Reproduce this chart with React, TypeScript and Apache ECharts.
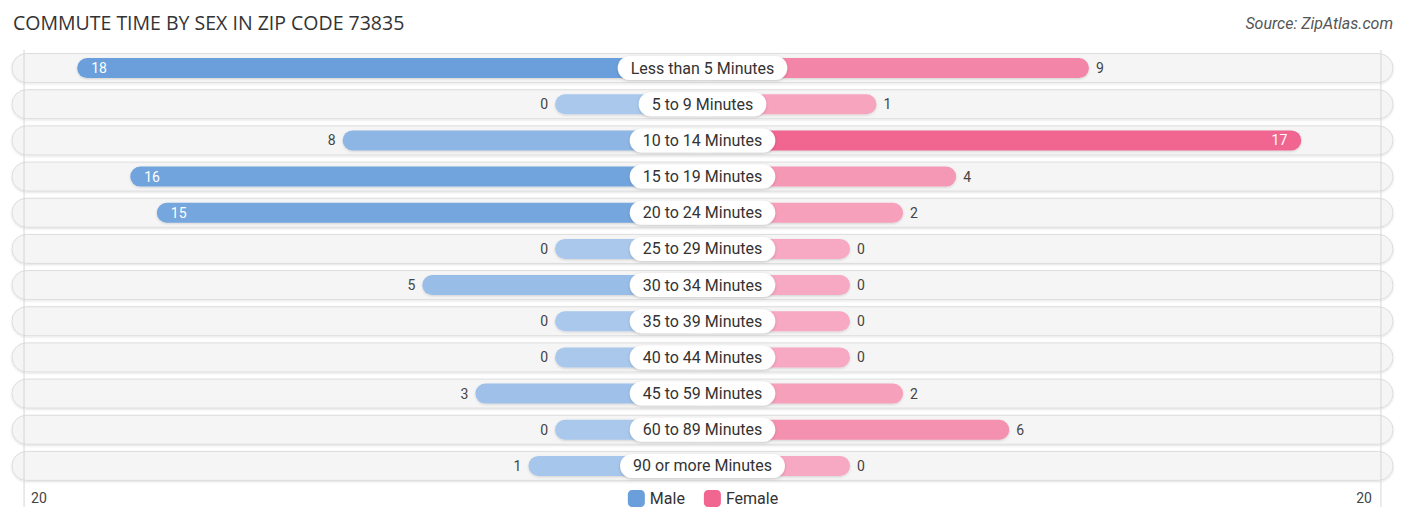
import React, { useEffect, useRef } from "react";
import * as echarts from "echarts";

const categories = [
  "Less than 5 Minutes",
  "5 to 9 Minutes",
  "10 to 14 Minutes",
  "15 to 19 Minutes",
  "20 to 24 Minutes",
  "25 to 29 Minutes",
  "30 to 34 Minutes",
  "35 to 39 Minutes",
  "40 to 44 Minutes",
  "45 to 59 Minutes",
  "60 to 89 Minutes",
  "90 or more Minutes",
];
const male = [18, 0, 8, 16, 15, 0, 5, 0, 0, 3, 0, 1];
const female = [9, 1, 17, 4, 2, 0, 0, 0, 0, 2, 6, 0];
const axisTicks = [-20, 20];
const axisTickLabels = ["20", "20"];

// space reserved for the category pill, in axis units
const OFFSET = 5.556;
const HALF = 26.01;

const FONT = "Roboto, 'Noto Sans', sans-serif";
const MALE_LIGHT = [169, 200, 236];
const MALE_STRONG = [106, 159, 219];
const FEMALE_LIGHT = [247, 168, 194];
const FEMALE_STRONG = [240, 102, 144];

const mix = (a: number[], b: number[], t: number) =>
  `rgb(${a.map((c, i) => Math.round(c + (b[i] - c) * t)).join(",")})`;

const barItems = (values: number[], light: number[], strong: number[], side: number) => {
  const max = Math.max(...values);
  return values.map((v) => {
    const inside = v > 12;
    return {
      value: side * (OFFSET + v),
      itemStyle: { color: mix(light, strong, v / max) },
      label: {
        show: true,
        position: inside
          ? side < 0
            ? "insideLeft"
            : "insideRight"
          : side < 0
          ? "left"
          : "right",
        distance: inside ? 14 : 7,
        color: inside ? "#ffffff" : "#444444",
        formatter: () => String(v),
      },
    };
  });
};

const App: React.FC = () => {
  const chartRef = useRef<HTMLDivElement>(null);

  useEffect(() => {
    if (!chartRef.current) return;
    const chart = echarts.init(chartRef.current, undefined, { renderer: "svg" });

    const rowData = categories.map((_, i) => [0, i]);

    const option = {
      animation: false,
      title: {
        text: "COMMUTE TIME BY SEX IN ZIP CODE 73835",
        left: 13,
        top: 12,
        padding: 0,
        textStyle: {
          fontFamily: "'Open Sans', sans-serif",
          fontSize: 19.5,
          fontWeight: "normal",
          color: "#333333",
        },
      },
      graphic: [
        {
          type: "text",
          right: 13,
          top: 15,
          style: {
            text: "Source: ZipAtlas.com",
            font: `italic 16px ${FONT}`,
            fill: "#555555",
          },
        },
      ],
      legend: {
        data: ["Male", "Female"],
        bottom: 16,
        left: "center",
        padding: 0,
        itemWidth: 17,
        itemHeight: 17,
        itemGap: 19,
        icon: "roundRect",
        textStyle: { fontFamily: FONT, fontSize: 16, color: "#333333" },
      },
      grid: { left: 12, right: 13, top: 50, bottom: 39 },
      xAxis: { type: "value", min: -HALF, max: HALF, show: false },
      yAxis: { type: "category", data: categories, inverse: true, show: false },
      series: [
        {
          type: "custom",
          name: "rows",
          z: 1,
          silent: true,
          data: rowData,
          encode: { x: 0, y: 1 },
          renderItem: (params: any, api: any) => {
            const cs = params.coordSys;
            const y = api.coord([0, api.value(1)])[1];
            const h = 29;
            return {
              type: "rect",
              shape: { x: cs.x, y: y - h / 2, width: cs.width, height: h, r: h / 2 },
              style: {
                fill: "#f5f5f5",
                stroke: "#dddddd",
                lineWidth: 1,
                shadowBlur: 2,
                shadowOffsetY: 1,
                shadowColor: "rgba(0,0,0,0.12)",
              },
            };
          },
        },
        {
          type: "custom",
          name: "axis",
          z: 2,
          silent: true,
          data: axisTicks.map((t, i) => [Math.sign(t) * (OFFSET + Math.abs(t)), i]),
          encode: { x: 0 },
          renderItem: (params: any, api: any) => {
            const cs = params.coordSys;
            const v = api.value(0);
            const x = api.coord([v, 0])[0];
            const label = axisTickLabels[params.dataIndex];
            return {
              type: "group",
              children: [
                {
                  type: "line",
                  shape: { x1: x, y1: cs.y, x2: x, y2: cs.y + cs.height + 23 },
                  style: { stroke: "#d6d6d6", lineWidth: 1 },
                },
                {
                  type: "text",
                  x: v < 0 ? x + 7 : x - 9,
                  y: cs.y + cs.height + 14,
                  style: {
                    text: label,
                    font: `14px ${FONT}`,
                    fill: "#444444",
                    align: v < 0 ? "left" : "right",
                    verticalAlign: "middle",
                  },
                },
              ],
            };
          },
        },
        {
          type: "bar",
          name: "Male",
          z: 3,
          barWidth: 20,
          barGap: "-100%",
          itemStyle: {
            color: mix(MALE_LIGHT, MALE_STRONG, 1),
            borderRadius: 10,
            shadowBlur: 2,
            shadowOffsetY: 1,
            shadowColor: "rgba(0,0,0,0.15)",
          },
          label: { fontFamily: FONT, fontSize: 14 },
          data: barItems(male, MALE_LIGHT, MALE_STRONG, -1),
        },
        {
          type: "bar",
          name: "Female",
          z: 3,
          barWidth: 20,
          barGap: "-100%",
          itemStyle: {
            color: mix(FEMALE_LIGHT, FEMALE_STRONG, 1),
            borderRadius: 10,
            shadowBlur: 2,
            shadowOffsetY: 1,
            shadowColor: "rgba(0,0,0,0.15)",
          },
          label: { fontFamily: FONT, fontSize: 14 },
          data: barItems(female, FEMALE_LIGHT, FEMALE_STRONG, 1),
        },
        {
          type: "custom",
          name: "labels",
          z: 4,
          silent: true,
          data: rowData,
          encode: { x: 0, y: 1 },
          renderItem: (params: any, api: any) => {
            const p = api.coord([0, api.value(1)]);
            return {
              type: "text",
              x: p[0],
              y: p[1],
              style: {
                text: categories[params.dataIndex],
                font: `16px ${FONT}`,
                fill: "#333333",
                align: "center",
                verticalAlign: "middle",
                lineHeight: 18,
                backgroundColor: "#ffffff",
                borderRadius: 12,
                padding: [3, 13],
                shadowBlur: 3,
                shadowOffsetY: 1,
                shadowColor: "rgba(0,0,0,0.18)",
              },
            };
          },
        },
      ],
    };

    chart.setOption(option);
    const onResize = () => chart.resize();
    window.addEventListener("resize", onResize);

    return () => {
      window.removeEventListener("resize", onResize);
      chart.dispose();
    };
  }, []);

  return (
    <div
      ref={chartRef}
      style={{ position: "absolute", left: 0, top: 0, width: "1406px", height: "523px" }}
    />
  );
};

export default App;
